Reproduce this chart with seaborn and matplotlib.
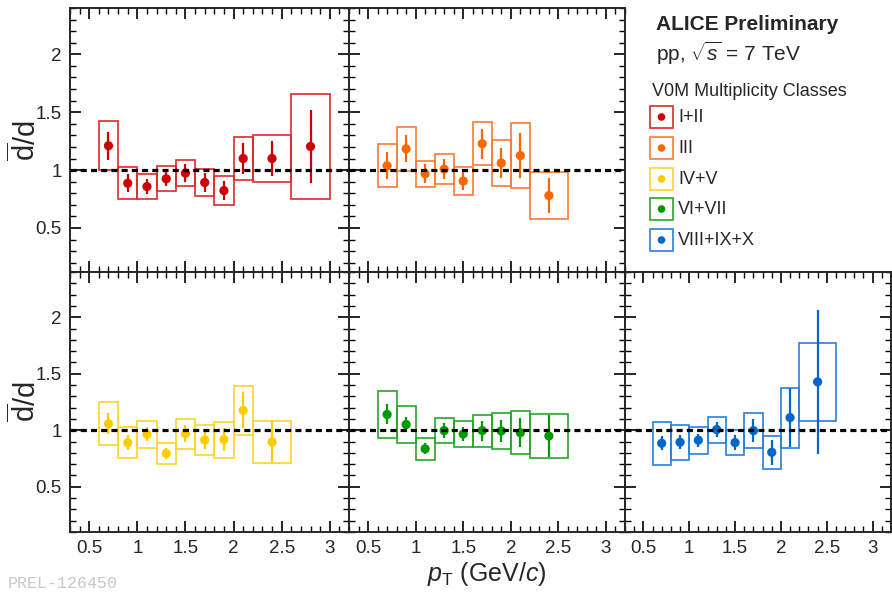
import numpy as np
import pandas as pd
import matplotlib
matplotlib.use("Agg")
import matplotlib.pyplot as plt
from matplotlib.patches import Rectangle
from matplotlib.ticker import MultipleLocator, FuncFormatter
import seaborn as sns

# ---------------- data ----------------
pt_all = [0.7, 0.9, 1.1, 1.3, 1.5, 1.7, 1.9, 2.1, 2.4, 2.8]
bin_width_all = [0.2, 0.2, 0.2, 0.2, 0.2, 0.2, 0.2, 0.2, 0.4, 0.4]

classes = ["I+II", "III", "IV+V", "VI+VII", "VIII+IX+X"]
colors = ["#cc0000", "#ff6600", "#ffcc00", "#009900", "#0066cc"]
box_colors = ["#dd2a2a", "#ff7a33", "#ffd42a", "#2aa62a", "#2a7fd8"]

ratio_I_II = [1.21, 0.887, 0.858, 0.925, 0.974, 0.893, 0.823, 1.10, 1.10, 1.204]
stat_I_II = [0.122, 0.077, 0.061, 0.058, 0.076, 0.082, 0.079, 0.130, 0.148, 0.318]
sys_I_II = [0.210, 0.140, 0.108, 0.108, 0.112, 0.118, 0.125, 0.188, 0.206, 0.450]

ratio_III = [1.037, 1.184, 0.968, 1.009, 0.905, 1.228, 1.061, 1.126, 0.780]
stat_III = [0.118, 0.116, 0.083, 0.084, 0.078, 0.130, 0.130, 0.195, 0.152]
sys_III = [0.185, 0.188, 0.112, 0.133, 0.123, 0.186, 0.195, 0.283, 0.204]

ratio_IV_V = [1.057, 0.890, 0.964, 0.795, 0.970, 0.914, 0.917, 1.176, 0.896]
stat_IV_V = [0.093, 0.064, 0.063, 0.049, 0.075, 0.078, 0.100, 0.160, 0.190]
sys_IV_V = [0.189, 0.139, 0.118, 0.091, 0.134, 0.133, 0.158, 0.219, 0.190]

ratio_VI_VII = [1.140, 1.051, 0.836, 0.997, 0.967, 0.997, 0.994, 0.979, 0.949]
stat_VI_VII = [0.089, 0.070, 0.048, 0.063, 0.063, 0.089, 0.097, 0.131, 0.188]
sys_VI_VII = [0.205, 0.167, 0.099, 0.113, 0.112, 0.142, 0.163, 0.192, 0.192]

ratio_VIII_X = [0.885, 0.894, 0.912, 1.006, 0.891, 0.997, 0.805, 1.112, 1.428]
stat_VIII_X = [0.064, 0.064, 0.057, 0.067, 0.067, 0.103, 0.109, 0.264, 0.635]
sys_VIII_X = [0.188, 0.156, 0.120, 0.115, 0.108, 0.156, 0.145, 0.266, 0.344]

series = [
    (ratio_I_II, stat_I_II, sys_I_II),
    (ratio_III, stat_III, sys_III),
    (ratio_IV_V, stat_IV_V, sys_IV_V),
    (ratio_VI_VII, stat_VI_VII, sys_VI_VII),
    (ratio_VIII_X, stat_VIII_X, sys_VIII_X),
]

x_ticks = [0.5, 1, 1.5, 2, 2.5, 3]
y_ticks = [0.5, 1, 1.5, 2]

# ---------------- style ----------------
sns.set_style("ticks")
plt.rcParams["font.family"] = ["Liberation Sans", "DejaVu Sans"]
plt.rcParams["mathtext.fontset"] = "custom"
plt.rcParams["mathtext.rm"] = "Liberation Sans"
plt.rcParams["mathtext.it"] = "Liberation Sans:italic"
plt.rcParams["mathtext.bf"] = "Liberation Sans:bold"
plt.rcParams["axes.linewidth"] = 1.4

W, H = 892, 593
fig = plt.figure(figsize=(W / 100, H / 100), dpi=100)


def px_axes(x0, y0, x1, y1):
    return fig.add_axes([x0 / W, 1 - y1 / H, (x1 - x0) / W, (y1 - y0) / H])


col_edges = [(70, 349), (349, 625), (625, 891)]
row_edges = [(8, 272), (272, 532)]
row_ylim = [(0.12, 2.4), (0.1, 2.4)]

panel_pos = [(0, 0), (0, 1), (1, 0), (1, 1), (1, 2)]
fmt = FuncFormatter(lambda v, p: f"{v:g}")

for i, (r, c) in enumerate(panel_pos):
    x0, x1 = col_edges[c]
    y0, y1 = row_edges[r]
    ax = px_axes(x0, y0, x1, y1)
    ratio, stat, sys_ = series[i]
    n = len(ratio)
    pt = pt_all[:n]
    bw = bin_width_all[:n]
    df = pd.DataFrame({"pt": pt, "ratio": ratio, "stat": stat, "sys": sys_, "bw": bw})

    # systematic boxes
    ax.bar(df["pt"], 2 * df["sys"], bottom=df["ratio"] - df["sys"], width=df["bw"],
           fill=False, edgecolor=box_colors[i], linewidth=1.2, zorder=2)
    # statistical error bars
    ax.vlines(df["pt"], df["ratio"] - df["stat"], df["ratio"] + df["stat"],
              color=colors[i], linewidth=1.6, zorder=3)
    # points
    sns.scatterplot(data=df, x="pt", y="ratio", color=colors[i], s=44,
                    edgecolor="none", ax=ax, zorder=4, legend=False)
    # reference line
    ax.axhline(1.0, color="black", linewidth=2.3, dashes=(1.9, 1.3), zorder=5)

    ax.set_xlim(0.3, 3.2)
    ax.set_ylim(*row_ylim[r])
    ax.set_xticks(x_ticks)
    ax.set_yticks(y_ticks)
    ax.xaxis.set_minor_locator(MultipleLocator(0.1))
    ax.yaxis.set_minor_locator(MultipleLocator(0.1))
    ax.xaxis.set_major_formatter(fmt)
    ax.yaxis.set_major_formatter(fmt)
    ax.tick_params(which="both", direction="in", top=True, right=True,
                   bottom=True, left=True, color="black")
    ax.tick_params(which="major", length=8, width=1.2, labelsize=13.5, pad=6)
    ax.tick_params(which="minor", length=4, width=1.0)
    ax.set_xlabel("")
    ax.set_ylabel("")
    for s in ax.spines.values():
        s.set_visible(True)
        s.set_linewidth(1.4)
    if r == 0:
        ax.tick_params(labelbottom=False)
    if c != 0:
        ax.tick_params(labelleft=False)
    ax.set_facecolor("white")

# axis titles
ylab = r"$\overline{\mathrm{d}}$/d"
fig.text(25 / W, 1 - 141 / H, ylab, rotation=90, ha="center", va="center", fontsize=21)
fig.text(25 / W, 1 - 402 / H, ylab, rotation=90, ha="center", va="center", fontsize=21)
fig.text(487 / W, 1 - 574 / H, r"$p_{\mathrm{T}}$ (GeV/$c$)", ha="center", va="center", fontsize=18)

# header texts
fig.text(656 / W, 1 - 24 / H, "ALICE Preliminary", ha="left", va="center",
         fontsize=15, fontweight="bold")
fig.text(656 / W, 1 - 53 / H, r"pp, $\sqrt{s}$ = 7 TeV", ha="left", va="center", fontsize=15)
fig.text(652 / W, 1 - 92 / H, "V0M Multiplicity Classes", ha="left", va="center", fontsize=13)

# legend entries (box + marker)
leg_ax = px_axes(625, 100, 891, 260)
leg_ax.set_xlim(625, 891)
leg_ax.set_ylim(260, 100)
leg_ax.axis("off")
entry_y = [117, 148, 179, 209, 240]
for i, name in enumerate(classes):
    yc = entry_y[i]
    leg_ax.add_patch(Rectangle((650, yc - 11), 23, 22, fill=False,
                               edgecolor=box_colors[i], linewidth=1.2))
    leg_ax.scatter([661.5], [yc], s=30, color=colors[i], edgecolor="none")
    leg_ax.text(678, yc, name, ha="left", va="center", fontsize=13)

# watermark at the bottom-left corner
fig.text(8 / W, 2 / H, "PREL-126450", ha="left", va="bottom", fontsize=12,
         family="Liberation Mono", color="#c8c8c8")

fig.savefig("out.png", dpi=100)
